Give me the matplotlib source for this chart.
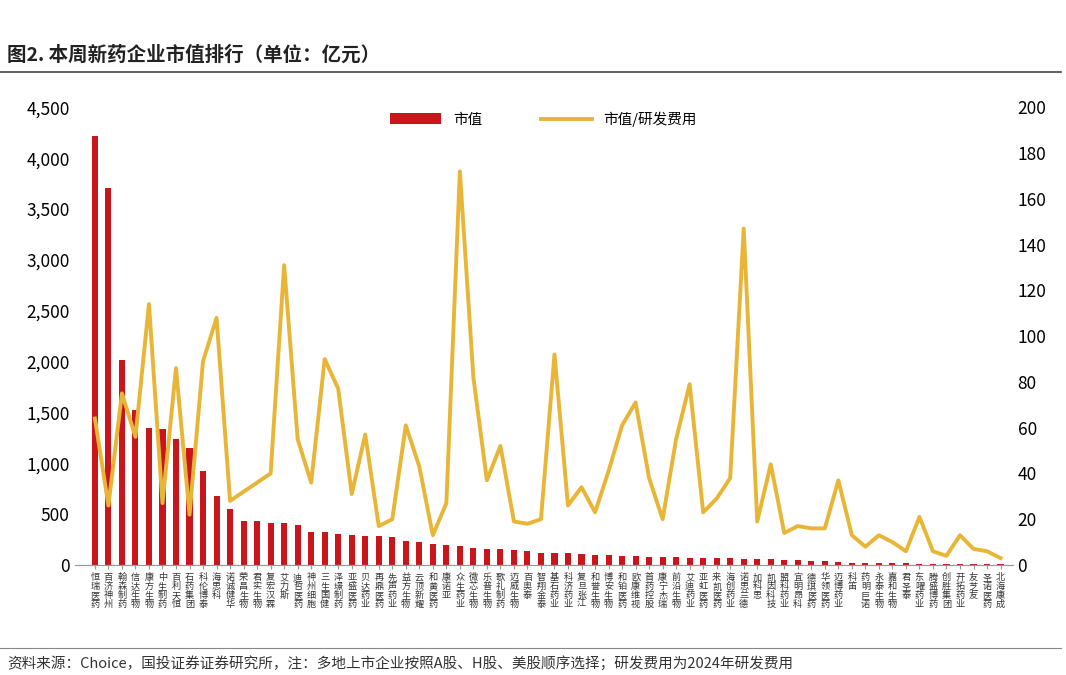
import matplotlib
matplotlib.use("Agg")
import matplotlib.pyplot as plt
from matplotlib.ticker import FuncFormatter

plt.rcParams['font.family'] = ['Noto Sans CJK SC', 'DejaVu Sans']

companies = ["恒瑞医药", "百济神州", "翰森制药", "信达生物", "康方生物", "中生制药", "百利天恒",
             "石药集团", "科伦博泰", "海思科", "诺诚健华", "荣昌生物", "君实生物", "复宏汉霖",
             "艾力斯", "迪哲医药", "神州细胞", "三生国健", "泽璟制药", "亚盛医药", "贝达药业",
             "再鼎医药", "先声药业", "益方生物", "云顶新耀", "和黄医药", "康诺亚", "众生药业",
             "微芯生物", "乐普生物", "歌礼制药", "迈威生物", "百奥泰", "智翔金泰", "基石药业",
             "科济药业", "复旦张江", "和誉生物", "博安生物", "和铂医药", "欧康维视", "首药控股",
             "康宁杰瑞", "前沿生物", "艾迪药业", "亚虹医药", "来凯医药", "海创药业", "诺思兰德",
             "加科思", "凯因科技", "盟科药业", "宜明昂科", "德琪医药", "华领医药", "迈博药业",
             "科笛", "药明巨诺", "永泰生物", "嘉和生物", "君圣泰", "东曜药业", "腾盛博药",
             "创胜集团", "开拓药业", "友芝友", "圣诺医药", "北海康成"]
market_cap = [4220, 3710, 2020, 1520, 1345, 1335, 1240, 1150, 920, 680, 550, 430, 430, 410,
              410, 390, 325, 320, 300, 290, 285, 280, 275, 240, 230, 205, 200, 190, 170, 160,
              155, 145, 135, 120, 120, 115, 110, 100, 95, 90, 85, 80, 80, 75, 72, 70, 68, 66,
              62, 60, 60, 52, 48, 42, 38, 32, 22, 20, 18, 17, 15, 14, 12, 10, 10, 8, 7, 6]
cap_to_rd = [64, 26, 75, 56, 114, 27, 86, 22, 89, 108, 28, 32, 36, 40, 131, 55, 36, 90, 77,
             31, 57, 17, 20, 61, 43, 13, 27, 172, 82, 37, 52, 19, 18, 20, 92, 26, 34, 23, 41,
             61, 71, 38, 20, 55, 79, 23, 29, 38, 147, 19, 44, 14, 17, 16, 16, 37, 13, 8, 13,
             10, 6, 21, 6, 4, 13, 7, 6, 3]

RED = "#C9161C"
GOLD = "#E8B537"

fig = plt.figure(figsize=(10.66, 6.75), dpi=100)
ax = fig.add_axes([0.070, 0.163, 0.880, 0.678])
ax2 = ax.twinx()

x = list(range(len(companies)))
ax.bar(x, market_cap, width=0.45, color=RED, label="市值", zorder=2)
ax2.plot(x, cap_to_rd, color=GOLD, lw=2.8, label="市值/研发费用", zorder=3)

ax.set_xlim(-1.5, len(companies) - 0.1)
ax.set_ylim(0, 4500)
ax.set_yticks(range(0, 4501, 500))
ax.yaxis.set_major_formatter(FuncFormatter(lambda v, p: f"{int(v):,}"))
ax2.set_ylim(0, 200)
ax2.set_yticks(range(0, 201, 20))

ax.set_xticks(x)
ax.set_xticklabels(["\n".join(c) for c in companies], fontsize=6.6, linespacing=0.98,
                   color="#333333")
ax.tick_params(axis="x", length=3, color="#999999", pad=3)
ax.tick_params(axis="y", length=0, labelsize=12.5)
ax2.tick_params(axis="y", length=0, labelsize=12.5)
for a in (ax, ax2):
    for s in ("top", "left", "right"):
        a.spines[s].set_visible(False)
    a.spines["bottom"].set_color("#999999")

h1, l1 = ax.get_legend_handles_labels()
h2, l2 = ax2.get_legend_handles_labels()
ax.legend(h1 + h2, l1 + l2, loc="upper center", bbox_to_anchor=(0.5, 1.02), ncol=2,
          frameon=False, fontsize=10.5, handlelength=3.5, columnspacing=4)

fig.text(0.007, 0.918, "图2. 本周新药企业市值排行（单位：亿元）", fontsize=14,
         fontweight="bold", color="#222222", va="center")
fig.add_artist(plt.Line2D([0.0, 0.995], [0.893, 0.893], color="#444444", lw=1.2))
fig.add_artist(plt.Line2D([0.0, 0.995], [0.04, 0.04], color="#888888", lw=0.8))
fig.text(0.007, 0.018, "资料来源：Choice，国投证券证券研究所，注：多地上市企业按照A股、H股、美股顺序选择；研发费用为2024年研发费用",
         fontsize=10.5, style="italic", color="#333333", va="center")

fig.savefig("out.png", dpi=100)
